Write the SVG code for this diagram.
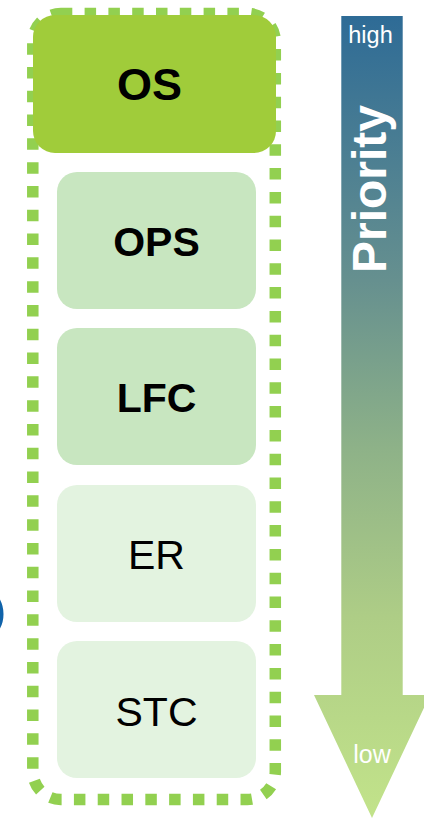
<svg xmlns="http://www.w3.org/2000/svg" width="424" height="819" viewBox="0 0 424 819">
<defs>
<linearGradient id="prio" gradientUnits="userSpaceOnUse" x1="0" y1="16" x2="0" y2="818">
<stop offset="0" stop-color="#2E6B96"/>
<stop offset="0.33" stop-color="#66908F"/>
<stop offset="0.54" stop-color="#8EB288"/>
<stop offset="0.75" stop-color="#AECD86"/>
<stop offset="1" stop-color="#C2E38A"/>
</linearGradient>
<style>
.lbl{font-family:"Liberation Sans",Arial,sans-serif;text-anchor:middle;fill:#000}
.b{font-weight:bold}
.mid{fill:#C8E6C0}
.lite{fill:#E3F3E0}
.w{font-family:"Liberation Sans",Arial,sans-serif;fill:#fff;text-anchor:middle}
</style>
</defs>
<rect width="424" height="819" fill="#fff"/>
<circle cx="-28" cy="614" r="29.5" fill="none" stroke="#1063AA" stroke-width="4"/>
<g id="priority-arrow">
<path d="M341.3,16 H402.7 V695 H430 L372,818 L314,695 H341.3 Z" fill="url(#prio)"/>
<text class="w" x="370.5" y="43" font-size="23.5">high</text>
<text class="w b" transform="translate(386,189) rotate(-90)" font-size="48">Priority</text>
<text class="w" x="372" y="763" font-size="25">low</text>
</g>
<g id="group-border">
<rect x="32.8" y="13.5" width="242.5" height="786" rx="28" fill="none" stroke="#92D050" stroke-width="11.5" stroke-dasharray="11.5 12.3"/>
</g>
<g id="node-os">
<rect x="33" y="15" width="243" height="138" rx="22" fill="#A0CC3A"/>
<text class="lbl b" x="149.5" y="100" font-size="45">OS</text>
</g>
<g id="node-ops">
<rect class="mid" x="57" y="172" width="199" height="137" rx="20"/>
<text class="lbl b" x="156.5" y="256" font-size="41">OPS</text>
</g>
<g id="node-lfc">
<rect class="mid" x="57" y="328" width="199" height="137" rx="20"/>
<text class="lbl b" x="156.5" y="412" font-size="41">LFC</text>
</g>
<g id="node-er">
<rect class="lite" x="57" y="485" width="199" height="137" rx="20"/>
<text class="lbl" x="156.5" y="569" font-size="41">ER</text>
</g>
<g id="node-stc">
<rect class="lite" x="57" y="641" width="199" height="137" rx="20"/>
<text class="lbl" x="156.5" y="726" font-size="41">STC</text>
</g>
<g id="connectors"></g>
</svg>
